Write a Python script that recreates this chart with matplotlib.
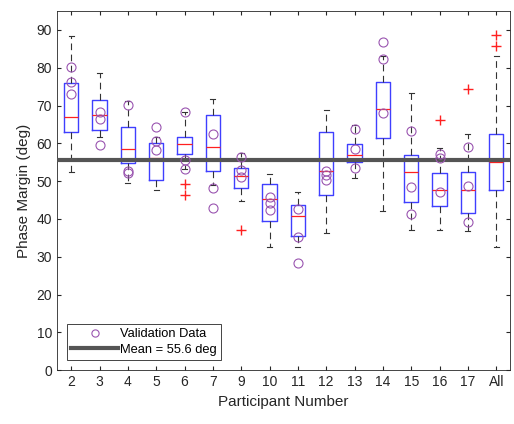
import matplotlib
matplotlib.use("Agg")
import matplotlib.pyplot as plt

plt.rcParams['font.family'] = ['Liberation Sans', 'DejaVu Sans']

labels = ['2', '3', '4', '5', '6', '7', '9', '10', '11', '12', '13', '14', '15', '16', '17', 'All']

# box stats (deg)
whis_hi = [88.5, 78.7, 71.2, 61.8, 68.4, 71.8, 57.5, 52.0, 47.0, 68.9, 64.9, 83.1, 73.3, 58.8, 62.6, 83.1]
q3      = [75.9, 71.4, 64.4, 60.0, 61.8, 67.6, 53.6, 49.2, 43.8, 63.1, 59.7, 76.1, 57.0, 52.1, 52.5, 62.6]
med     = [66.9, 67.4, 58.4, 56.1, 59.7, 58.9, 51.3, 45.3, 40.9, 52.8, 57.0, 69.0, 52.3, 47.6, 47.6, 55.1]
q1      = [62.9, 63.5, 54.7, 50.2, 57.1, 52.7, 48.2, 39.4, 35.5, 46.3, 55.0, 61.4, 44.5, 43.3, 41.6, 47.6]
whis_lo = [52.5, 61.8, 49.4, 47.6, 53.3, 49.0, 44.7, 32.6, 32.6, 36.2, 50.8, 42.1, 37.0, 37.0, 36.8, 32.6]
outliers = [[], [], [], [], [49.2, 46.4], [], [37.2], [], [], [], [], [], [], [66.3], [74.3], [88.6, 85.7]]

# validation data points per participant
valid = [
    [80.3, 76.3, 73.0],
    [68.2, 66.4, 59.6],
    [70.2, 52.8, 52.1],
    [64.2, 60.7, 58.2],
    [68.4, 55.6, 53.3],
    [62.6, 48.3, 42.8],
    [56.5, 52.9, 51.2],
    [45.9, 44.3, 42.4],
    [42.5, 35.2, 28.4],
    [52.8, 51.5, 50.3],
    [63.7, 58.6, 53.5],
    [86.9, 82.2, 68.0],
    [63.3, 48.4, 41.3],
    [57.3, 56.2, 47.1],
    [59.1, 48.6, 39.1],
]
mean_pm = 55.6

fig, ax = plt.subplots(figsize=(5.14, 4.24), dpi=100)
fig.subplots_adjust(left=0.111, right=0.993, top=0.974, bottom=0.127)

stats = []
for i in range(len(labels)):
    stats.append(dict(whishi=whis_hi[i], q3=q3[i], med=med[i], q1=q1[i],
                      whislo=whis_lo[i], fliers=outliers[i], label=labels[i]))

pos = list(range(1, len(labels) + 1))
ax.bxp(stats, positions=pos, widths=0.5, showfliers=True,
       boxprops=dict(color='#3f3fff', linewidth=1.0),
       medianprops=dict(color='#ff2020', linewidth=0.9),
       whiskerprops=dict(color='#333333', linewidth=0.8, linestyle=(0, (6, 4))),
       capprops=dict(color='#333333', linewidth=0.8),
       capwidths=0.18,
       flierprops=dict(marker='+', markeredgecolor='#ff2020', markersize=6.5, linestyle='none'))

ax.axhline(mean_pm, color='#555555', linewidth=3, zorder=4, label='Mean = 55.6 deg')

first = True
for i, vals in enumerate(valid):
    ax.plot([pos[i]] * len(vals), vals, 'o', markerfacecolor='none',
            markeredgecolor='#9a55b0', markersize=6.5, markeredgewidth=0.8, zorder=5,
            label='Validation Data' if first else None)
    first = False

ax.set_xlim(0.5, len(labels) + 0.5)
ax.set_ylim(0, 95)
ax.set_yticks(range(0, 91, 10))
ax.set_xticks(pos)
ax.set_xticklabels(labels)
ax.set_xlabel('Participant Number', fontsize=11, color='#262626')
ax.set_ylabel('Phase Margin (deg)', fontsize=11, color='#262626')
ax.tick_params(direction='in', top=True, right=True, labelsize=10, colors='#262626', length=3)
for s in ax.spines.values():
    s.set_color('#262626')
    s.set_linewidth(0.6)

h, l = ax.get_legend_handles_labels()
leg = ax.legend(h[::-1], l[::-1], loc='lower left', fontsize=9.3, fancybox=False,
                edgecolor='#262626', framealpha=1, borderaxespad=0.8,
                handlelength=3.6, handletextpad=0.2, borderpad=0.3, labelspacing=0.3,
                markerscale=0.8)
leg.get_frame().set_linewidth(0.6)

plt.savefig('out.png')
